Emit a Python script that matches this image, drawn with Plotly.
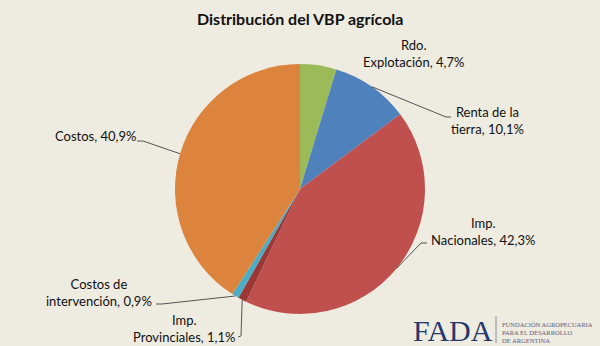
import math
import plotly.graph_objects as go

# ---- data ----
categories = ["Rdo. Explotación", "Renta de la tierra", "Imp. Nacionales",
              "Imp. Provinciales", "Costos de intervención", "Costos"]
values = [4.7, 10.1, 42.3, 1.1, 0.9, 40.9]
label_lines = [["Rdo.", "Explotación"], ["Renta de la", "tierra"], ["Imp.", "Nacionales"],
               ["Imp.", "Provinciales"], ["Costos de", "intervención"], ["Costos"]]
colors = ["#9BBB59", "#4F81BD", "#C0504D", "#9B3734", "#4BACC6", "#DC843E"]

W, H = 600, 346
CX, CY, R = 300, 189, 125
BG = "#EEEBE1"
FONT = "Lato"

def px(x):
    return x / W

def py(y):
    return 1 - y / H

fig = go.Figure(go.Pie(
    labels=categories, values=values, sort=False, direction="clockwise",
    rotation=0, marker=dict(colors=colors, line=dict(width=0)),
    textinfo="none", hoverinfo="label+percent", showlegend=False,
    domain=dict(x=[px(CX - R), px(CX + R)], y=[py(CY + R), py(CY - R)]),
))

# slice mid-angle edge points (from data)
total = sum(values)
edge = []
cum = 0
for v in values:
    mid = (cum + v / 2) / total * 2 * math.pi
    edge.append((CX + R * math.sin(mid), CY - R * math.cos(mid)))
    cum += v

def fmt(v):
    return f"{v:.1f}".replace(".", ",") + "%"

def label_text(i):
    lines = list(label_lines[i])
    lines[-1] = lines[-1] + ", " + fmt(values[i])
    return "<br>".join(lines)

# label centres (layout) and leader elbows
label_pos = [(413, 54), (487, 121), (483, 231), (184, 328), (99, 292), (95, 136)]
leader = {
    1: [(446, 117), (451, 117)],
    2: [(421, 243), (427, 243)],
    3: [(241, 336), (238, 337)],
    4: [(162, 304), (156, 304)],
    5: [(143, 141), (137, 141)],
}

annotations = []
shapes = []
for i in range(len(values)):
    x, y = label_pos[i]
    annotations.append(dict(
        x=px(x), y=py(y), xref="paper", yref="paper", text=label_text(i),
        showarrow=False, xanchor="center", yanchor="middle", align="center",
        font=dict(family=FONT, size=13, color="#111111")))
    if i in leader:
        pts = [edge[i]] + leader[i]
        path = "M " + " L ".join(f"{px(a)},{py(b)}" for a, b in pts)
        shapes.append(dict(type="path", xref="paper", yref="paper", path=path,
                           line=dict(color="#555555", width=1)))

# title
annotations.append(dict(x=0.5, y=py(18), xref="paper", yref="paper",
                        text="<b>Distribución del VBP agrícola</b>", showarrow=False,
                        xanchor="center", yanchor="middle",
                        font=dict(family=FONT, size=16, color="#111111")))

# FADA logo
annotations.append(dict(x=px(453), y=py(330), xref="paper", yref="paper", text="FADA",
                        showarrow=False, xanchor="center", yanchor="middle",
                        font=dict(family="Liberation Serif", size=30, color="#24386B")))
shapes.append(dict(type="line", xref="paper", yref="paper",
                   x0=px(496), x1=px(496), y0=py(316), y1=py(343),
                   line=dict(color="#8A8FA8", width=1)))
for k, t in enumerate(["FUNDACIÓN AGROPECUARIA", "PARA EL DESARROLLO", "DE ARGENTINA"]):
    annotations.append(dict(x=px(500), y=py(324 + 8 * k), xref="paper", yref="paper",
                            text=t, showarrow=False, xanchor="left", yanchor="middle",
                            font=dict(family="Liberation Serif", size=6.5, color="#5A6080")))

fig.update_layout(width=W, height=H, margin=dict(l=0, r=0, t=0, b=0),
                  paper_bgcolor=BG, plot_bgcolor=BG,
                  annotations=annotations, shapes=shapes)

fig.write_html("out.html")
